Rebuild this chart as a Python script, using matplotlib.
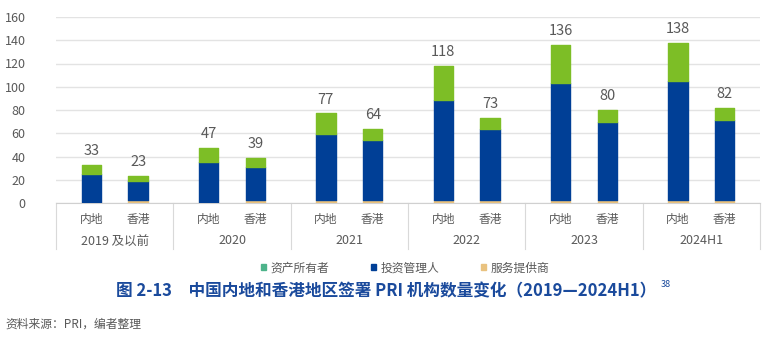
import numpy as np
import matplotlib.pyplot as plt
from matplotlib.patches import Patch
from matplotlib.lines import Line2D
import matplotlib.transforms as mtransforms

plt.rcParams['font.family'] = ['Noto Sans CJK SC', 'DejaVu Sans']

years = ['2019 及以前', '2020', '2021', '2022', '2023', '2024H1']
regions = ['内地', '香港']
# order per group: 内地, 香港
service = [1, 3, 1, 3, 3, 3, 3, 3, 3, 3, 3, 3]
manager = [24, 16, 34, 28, 56, 51, 86, 61, 100, 67, 102, 68]
owner = [8, 4, 12, 8, 18, 10, 29, 9, 33, 10, 33, 11]
totals = [33, 23, 47, 39, 77, 64, 118, 73, 136, 80, 138, 82]
series_names = ['资产所有者', '投资管理人', '服务提供商']

c_owner = '#7DBE26'
c_owner_legend = '#4DB38A'
c_manager = '#003F96'
c_service = '#E9C27F'
grey = '#595959'

fig = plt.figure(figsize=(7.63, 3.41), dpi=100)
ax = fig.add_axes([56 / 763, 1 - 203 / 341, 704 / 763, 186 / 341])

x = []
for g in range(len(years)):
    x += [g + 0.3, g + 0.7]
x = np.array(x)
w = 0.165

service = np.array(service)
manager = np.array(manager)
owner = np.array(owner)

kw = dict(width=w, linewidth=1.0, joinstyle='round', zorder=3)
ax.bar(x, service, color=c_service, edgecolor=c_service, **kw)
ax.bar(x, manager, bottom=service, color=c_manager, edgecolor=c_manager, **kw)
ax.bar(x, owner, bottom=service + manager, color=c_owner, edgecolor=c_owner, **kw)

for xi, t in zip(x, totals):
    ax.annotate(str(t), (xi, t), xytext=(0, 5), textcoords='offset points',
                ha='center', va='bottom', fontsize=10.5, color=grey)

ax.set_xlim(0, len(years))
ax.set_ylim(0, 160)
ax.set_yticks(range(0, 161, 20))
ax.tick_params(axis='y', length=0, labelsize=9, labelcolor=grey, pad=22)
ax.yaxis.grid(True, color='#E3E3E3', linewidth=1)
ax.set_axisbelow(True)
for s in ['top', 'right', 'left']:
    ax.spines[s].set_visible(False)
ax.spines['bottom'].set_color('#D0D0D0')

ax.set_xticks([])
trans = mtransforms.blended_transform_factory(ax.transData, ax.transAxes)
for i, xi in enumerate(x):
    ax.text(xi, -17 / 186, regions[i % 2], transform=trans, ha='center', va='center',
            fontsize=8.5, color=grey)
for g, y in enumerate(years):
    ax.text(g + 0.5, -38 / 186, y, transform=trans, ha='center', va='center',
            fontsize=9, color=grey)
for g in range(len(years) + 1):
    ax.add_line(Line2D([g, g], [0, -46 / 186], transform=trans, color='#D9D9D9',
                       linewidth=0.8, clip_on=False))

handles = [Patch(color=c) for c in [c_owner_legend, c_manager, c_service]]
fig.legend(handles, series_names, loc='center', bbox_to_anchor=(405 / 763, 1 - 268 / 341),
           ncol=3, frameon=False, fontsize=8.5, labelcolor=grey, handlelength=0.45,
           handleheight=0.45, handletextpad=0.4, columnspacing=3.5)

title = fig.text(386 / 763, 1 - 291 / 341,
                 '图 2-13　中国内地和香港地区签署 PRI 机构数量变化（2019—2024H1）',
                 ha='center', va='center', fontsize=12, color='#1A4A9C', fontweight='bold')
plt.annotate('38', xy=(1, 1), xycoords=title, xytext=(3, -2),
             textcoords='offset points', ha='left', va='center',
             fontsize=6.5, color='#1A4A9C', annotation_clip=False)

fig.text(5 / 763, 1 - 324 / 341, '资料来源：PRI，编者整理', ha='left', va='center',
         fontsize=8.5, color=grey)

fig.savefig('out.png', dpi=100)
